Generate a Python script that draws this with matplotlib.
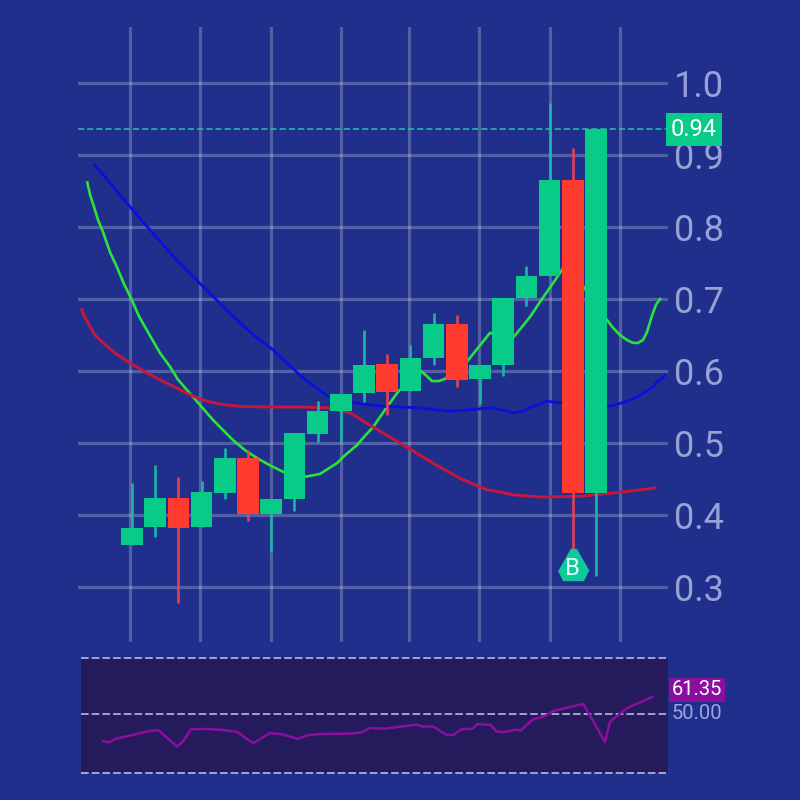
import numpy as np
import matplotlib
matplotlib.use("Agg")
import matplotlib.pyplot as plt

# candles, left to right
opens = [.358, .383, .424, .383, .431, .479, .401, .422, .512, .544, .569, .610, .572, .618, .665, .589, .608, .701, .732, .865, .431]
closes = [.382, .424, .382, .432, .479, .401, .422, .514, .544, .568, .608, .571, .618, .665, .588, .608, .701, .732, .865, .431, .936]
highs = [.444, .469, .453, .447, .493, .490, .422, .514, .558, .568, .657, .624, .636, .681, .678, .608, .701, .746, .972, .910, .936]
lows = [.358, .369, .278, .383, .422, .392, .349, .406, .501, .501, .557, .539, .572, .608, .578, .554, .593, .690, .732, .351, .315]

green_x = [-1.927, -1.81, -1.668, -1.466, -1.237, -.948, -.659, -.345, -.013, .302, .634, 1.207, 1.638, 1.983, 2.629, 3.491, 4.353, 4.871, 5.388, 5.948, 6.509, 7.026, 7.457, 8.103, 8.836, 9.181, 9.698, 10.043, 10.388, 10.991, 11.466, 12.414, 12.672, 12.931, 13.22, 13.491, 14.44, 15.431, 16.422, 17.155, 17.586, 18.233, 18.664, 18.966, 19.44, 19.957, 20.474, 20.733, 21.034, 21.336, 21.595, 21.81, 22.026, 22.198, 22.414, 22.586, 22.759]
green_y = [.862, .845, .831, .81, .792, .765, .745, .721, .699, .676, .657, .625, .606, .588, .564, .532, .504, .49, .479, .469, .46, .456, .453, .457, .472, .483, .497, .51, .522, .55, .571, .601, .594, .586, .586, .589, .613, .653, .646, .675, .696, .726, .747, .751, .718, .694, .671, .66, .65, .643, .639, .639, .643, .654, .677, .692, .7]

blue_x = [-1.595, -.086, .776, 1.927, 3.073, 4.224, 5.228, 6.091, 7.241, 7.974, 8.534, 9.526, 10.819, 12.284, 13.707, 15.56, 16.422, 16.853, 17.155, 17.888, 18.448, 19.526, 20.603, 21.25, 21.767, 22.11, 22.457, 22.672, 22.974]
blue_y = [.886, .828, .796, .754, .717, .68, .65, .629, .594, .576, .563, .556, .551, .549, .544, .549, .542, .544, .549, .558, .556, .553, .551, .557, .564, .571, .578, .586, .594]

red_x = [-2.168, -2.026, -1.81, -1.595, -1.237, -.733, -.086, .56, 1.065, 1.638, 2.5, 2.931, 3.491, 4.009, 4.655, 5.733, 7.241, 8.405, 9.397, 10.388, 11.121, 11.853, 12.974, 13.578, 14.138, 14.698, 15.302, 15.862, 16.422, 17.586, 19.31, 20.905, 22.543]
red_y = [.685, .674, .662, .65, .639, .625, .611, .599, .59, .581, .567, .561, .556, .553, .551, .55, .55, .549, .542, .522, .508, .494, .472, .461, .451, .443, .435, .432, .428, .425, .426, .431, .4375]

rsi_x = [-1.237, -.978, -.733, .203, .776, 1.134, 1.953, 2.241, 2.543, 3.22, 3.922, 4.513, 5.228, 5.948, 6.453, 7.142, 7.599, 8.246, 9.397, 9.901, 10.259, 10.905, 11.552, 12.272, 12.556, 12.961, 13.565, 13.849, 14.211, 14.685, 14.884, 15.461, 15.72, 16.078, 16.509, 16.754, 17.297, 17.802, 18.159, 19.453, 20.388, 20.603, 21.323, 22.427]
rsi_y = [32.0, 31.1, 33.3, 36.7, 38.7, 39.3, 28.2, 32.7, 39.8, 40.0, 39.3, 38.2, 30.5, 37.3, 36.5, 33.5, 36.0, 36.7, 36.9, 37.8, 40.7, 40.2, 41.5, 42.9, 41.5, 41.8, 36.0, 36.0, 39.8, 40.2, 43.3, 42.7, 38.2, 38.0, 39.5, 39.1, 46.5, 48.7, 52.0, 56.7, 31.3, 44.9, 53.8, 61.35]

price_ticks = [.3, .4, .5, .6, .7, .8, .9, 1.0]
rsi_levels = [10.67, 50, 87.33]
last_price = .936
last_rsi = 61.35
buy_index = 19
buy_price = .331

BG = "#1f2f8b"
UP = "#07cb86"
DOWN = "#ff3b30"
UP_WICK = "#1db4a6"
DOWN_WICK = "#e2405a"
TICK = "#98a1d6"

plt.rcParams["font.family"] = ["Roboto", "DejaVu Sans"]

fig = plt.figure(figsize=(8, 8), dpi=100, facecolor=BG)

# main price pane
ax = fig.add_axes([78 / 800, 158 / 800, 590 / 800, 615 / 800], facecolor=BG)
ax.set_xlim(-2.328, 23.103)
ax.set_ylim(.2236, 1.0778)
for s in ax.spines.values():
    s.set_visible(False)
ax.set_axisbelow(True)
ax.grid(True, color="white", alpha=.23, lw=2.3)
ax.set_xticks([-.09, 2.93, 5.99, 9.0, 11.94, 14.96, 18.0, 21.03])
ax.set_yticks(price_ticks)
ax.set_yticklabels([f"{p:.1f}" for p in price_ticks])
ax.tick_params(axis="x", length=0, labelbottom=False)
ax.tick_params(axis="y", length=0, labelleft=False, labelright=True, pad=4, labelsize=26, labelcolor=TICK)

ax.plot(green_x, green_y, color="#28e43c", lw=1.9, zorder=2)
ax.plot(blue_x, blue_y, color="#0a10dc", lw=2, zorder=2)
ax.plot(red_x, red_y, color="#c8163c", lw=2.1, zorder=2)

idx = np.arange(len(opens))
colors = [UP if c >= o else DOWN for o, c in zip(opens, closes)]
wick_colors = [UP_WICK if c >= o else DOWN_WICK for o, c in zip(opens, closes)]
ax.vlines(idx, lows, highs, colors=wick_colors, lw=1.9, zorder=3)
ax.bar(idx, np.array(closes) - np.array(opens), bottom=opens, width=.93, color=colors, zorder=4)

ax.axhline(last_price, color="#25c0b0", lw=1.1, ls=(0, (4, 2)), zorder=1)
ax.text(1.0 + 3 / 590, last_price, f"{last_price:.2f}", transform=ax.get_yaxis_transform(),
        color="white", fontsize=17, va="center", ha="left", zorder=6,
        bbox=dict(facecolor=UP, edgecolor="none", pad=3.5))

# buy marker
ax.plot([buy_index], [buy_price], marker=[(-3, 16), (3, 16), (15, -5), (10, -15), (-10, -15), (-15, -5)],
        ms=23, color="#0fc99a", mec="#0fc99a", zorder=5)
ax.text(buy_index, buy_price - .005, "B", color="#dcfff2", fontsize=17, ha="center", va="center", zorder=6)

# rsi pane
ax2 = fig.add_axes([81 / 800, 27 / 800, 587 / 800, 115 / 800], facecolor="#251a5c")
ax2.set_xlim(-2.198, 23.103)
ax2.set_ylim(10.67, 87.33)
for s in ax2.spines.values():
    s.set_visible(False)
ax2.set_xticks([])
ax2.set_yticks([])
for level in rsi_levels:
    ax2.axhline(level, color="#c3c7ea", lw=1.1, ls=(0, (5, 2)), clip_on=False, zorder=2)
ax2.plot(rsi_x, rsi_y, color="#8b0f9e", lw=1.8, zorder=3)
ax2.text(1.0 + 4 / 587, 66, f"{last_rsi:.2f}", transform=ax2.get_yaxis_transform(),
         color="white", fontsize=14.5, va="center", ha="left", zorder=6,
         bbox=dict(facecolor="#8b0f9e", edgecolor="none", pad=2))
ax2.text(1.0 + 4 / 587, 50, "50.00", transform=ax2.get_yaxis_transform(),
         color="#9aa6e0", fontsize=14.5, va="center", ha="left", zorder=5)

fig.savefig("out.png", dpi=100, facecolor=BG)
